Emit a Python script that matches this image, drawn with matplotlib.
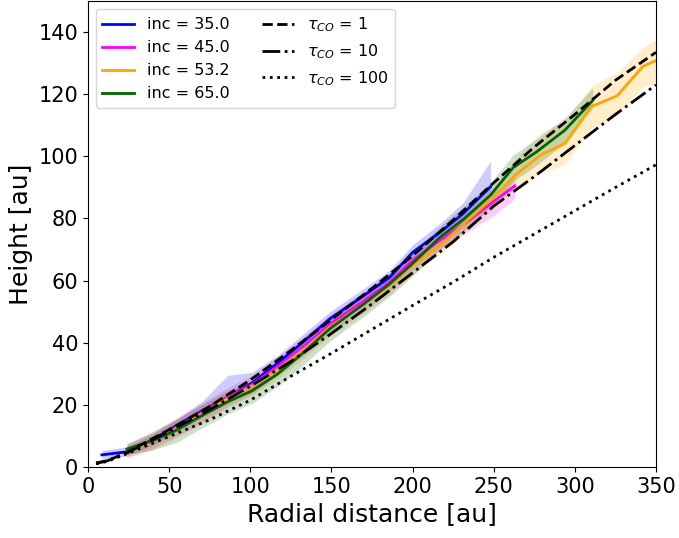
import matplotlib
matplotlib.use("Agg")
import matplotlib.pyplot as plt
import numpy as np

# retrieved surface heights (r [au], h [au], band lower / upper)
r_35 = [8.5, 24, 40, 55, 70, 86, 101, 117, 132, 149, 170, 186, 200, 217, 231, 248]
h_35 = [3.9, 4.9, 8.8, 13.5, 18.0, 22.5, 27.0, 33.5, 40.0, 47.7, 55.2, 61.1, 69.1, 75.6, 81.5, 90.2]
lo_35 = [2.5, 3.5, 7.0, 11.5, 16.0, 20.5, 25.0, 31.5, 38.0, 45.5, 53.0, 59.0, 67.0, 73.0, 79.0, 88.0]
hi_35 = [5.3, 6.5, 10.5, 15.5, 21.0, 29.5, 30.5, 36.0, 42.5, 50.0, 57.5, 63.5, 71.5, 78.5, 85.0, 98.5]

r_45 = [24, 40, 55, 70, 86, 101, 117, 132, 149, 170, 186, 200, 217, 235, 250, 263]
h_45 = [5.0, 8.5, 13.0, 17.5, 22.5, 26.5, 32.5, 38.5, 46.0, 53.5, 59.5, 66.5, 73.0, 79.5, 85.5, 90.5]
lo_45 = [3.0, 6.0, 10.0, 14.5, 19.5, 23.5, 29.5, 35.5, 43.0, 50.5, 56.5, 63.5, 70.0, 76.0, 81.0, 86.5]
hi_45 = [7.5, 11.0, 16.0, 20.5, 25.5, 29.5, 35.5, 41.5, 49.0, 56.5, 62.5, 69.5, 76.0, 82.5, 88.5, 93.0]

r_53 = [24, 40, 55, 70, 86, 101, 117, 132, 149, 170, 186, 200, 217, 232, 248, 264, 279, 294, 310, 326, 342, 357]
h_53 = [5.0, 8.3, 12.5, 17.0, 22.0, 26.0, 31.5, 37.5, 45.0, 52.5, 58.5, 65.0, 71.5, 78.5, 86.0, 94.3, 100.5,
        104.2, 116.0, 119.5, 129.0, 132.5]
lo_53 = [3.0, 5.5, 9.5, 14.0, 19.0, 23.0, 28.5, 34.5, 42.0, 49.5, 55.5, 62.0, 68.5, 75.5, 82.5, 90.0, 94.5,
         97.5, 109.0, 113.0, 122.5, 124.5]
hi_53 = [7.0, 11.0, 15.5, 20.0, 25.0, 29.0, 34.5, 40.5, 48.0, 55.5, 61.5, 68.0, 74.5, 81.5, 89.5, 99.5, 107.5,
         111.5, 122.5, 127.0, 135.0, 140.0]

r_65 = [24, 40, 55, 70, 86, 101, 117, 132, 149, 170, 186, 200, 217, 232, 248, 262, 276, 294, 311]
h_65 = [5.8, 8.5, 12.0, 16.5, 21.0, 24.5, 30.0, 36.5, 44.5, 52.5, 59.0, 65.5, 74.0, 80.0, 87.5, 96.4, 101.3,
        108.5, 118.0]
lo_65 = [4.0, 5.5, 8.0, 12.5, 17.0, 20.5, 26.0, 32.5, 40.5, 48.5, 55.0, 61.5, 70.0, 76.0, 83.5, 92.0, 97.0,
         104.5, 115.5]
hi_65 = [7.5, 11.5, 15.5, 20.0, 24.5, 28.0, 33.5, 40.0, 48.0, 56.0, 62.5, 69.0, 77.5, 84.0, 91.5, 100.5, 105.5,
         112.5, 122.0]

# model surfaces for different CO optical depths
r_mod = [5, 12, 25, 50, 75, 100, 125, 150, 175, 200, 225, 250, 275, 300, 325, 350]
h_tau1 = [1.3, 2.0, 5.0, 12.0, 19.5, 28.0, 37.5, 47.5, 57.5, 68.0, 79.5, 91.5, 103.0, 113.5, 124.5, 133.5]
h_tau10 = [1.2, 2.0, 4.8, 11.5, 18.5, 26.0, 34.0, 43.0, 52.5, 62.5, 72.5, 84.0, 93.5, 103.5, 113.5, 123.0]
h_tau100 = [1.0, 1.8, 4.5, 9.8, 15.2, 21.5, 29.2, 36.6, 44.3, 52.0, 59.5, 67.5, 75.0, 82.5, 90.0, 97.3]

data = [
    (r_35, h_35, lo_35, hi_35, "blue", "inc = 35.0"),
    (r_45, h_45, lo_45, hi_45, "magenta", "inc = 45.0"),
    (r_53, h_53, lo_53, hi_53, "orange", "inc = 53.2"),
    (r_65, h_65, lo_65, hi_65, "darkgreen", "inc = 65.0"),
]

fig = plt.figure(figsize=(6.79, 5.38), dpi=100)
ax = fig.add_axes([0.1296, 0.132, 0.8365, 0.866])

for r, h, lo, hi, c, lab in data:
    ax.fill_between(r, lo, hi, color=c, alpha=0.2, lw=0)
    ax.plot(r, h, color=c, lw=2, label=lab)

ax.plot(r_mod, h_tau1, color="k", ls="--", lw=2, label=r"$\tau_{CO}$ = 1")
ax.plot(r_mod, h_tau10, color="k", ls="-.", lw=2, label=r"$\tau_{CO}$ = 10")
ax.plot(r_mod, h_tau100, color="k", ls=":", lw=2, label=r"$\tau_{CO}$ = 100")

ax.set_xlim(0, 350)
ax.set_ylim(0, 150)
ax.set_xticks(np.arange(0, 351, 50))
ax.set_yticks(np.arange(0, 141, 20))
ax.tick_params(labelsize=15)
ax.set_xlabel("Radial distance [au]", fontsize=18)
ax.set_ylabel("Height [au]", fontsize=18)
ax.legend(loc="upper left", ncol=2, fontsize=11.5)

fig.savefig("out.png", dpi=100)
